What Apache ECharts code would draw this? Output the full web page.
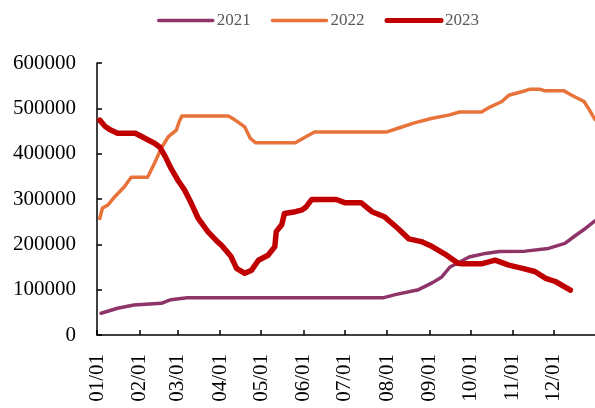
<!DOCTYPE html>
<html>
<head>
<meta charset="utf-8">
<script src="https://cdn.jsdelivr.net/npm/echarts@6/dist/echarts.min.js"></script>
<style>html,body{margin:0;padding:0;background:#fff;}#c{width:595px;height:408px;}</style>
</head>
<body>
<div id="c"></div>
<script>
var seriesNames = ['2021', '2022', '2023'];
var yTicks = [0, 100000, 200000, 300000, 400000, 500000, 600000];

var dates2021 = ['01-04','01-16','01-28','02-17','02-24','03-08','07-29','08-07','08-24','09-03','09-10','09-16','09-20','09-30','10-12','10-22','11-10','11-27','12-09','12-17','12-24','12-31'];
var values2021 = [48000,59000,66000,70000,78000,82000,82000,89000,100000,115000,128000,150000,156000,172000,180000,184000,185000,191000,202000,220000,235000,252000];

var dates2022 = ['01-03','01-05','01-09','01-14','01-21','01-26','02-07','02-12','02-17','02-22','02-28','03-02','03-04','04-07','04-12','04-19','04-23','04-27','05-26','06-02','06-09','08-01','08-09','08-21','09-03','09-15','09-23','10-09','10-14','10-24','10-29','11-08','11-13','11-21','11-24','12-08','12-14','12-23','12-27','12-31'];
var values2022 = [257000,280000,287000,305000,327000,348000,348000,379000,412000,437000,452000,470000,483000,483000,474000,459000,434000,424000,424000,436000,448000,448000,456000,468000,478000,485000,492000,492000,501000,515000,529000,537000,542000,542000,539000,539000,529000,515000,496000,475000];

var dates2023 = ['01-03','01-07','01-11','01-16','01-29','02-05','02-12','02-16','02-20','02-24','03-01','03-06','03-11','03-16','03-23','03-30','04-02','04-09','04-13','04-19','04-24','04-29','05-06','05-11','05-12','05-16','05-18','05-26','05-31','06-03','06-07','06-25','07-01','07-13','07-21','07-30','08-09','08-17','08-26','09-03','09-12','09-22','09-25','10-09','10-19','10-29','11-08','11-17','11-25','12-02','12-13'];
var values2023 = [474000,460000,452000,445000,445000,434000,423000,414000,393000,368000,342000,320000,290000,257000,228000,206000,198000,173000,147000,136000,143000,165000,176000,195000,228000,243000,268000,272000,276000,283000,299000,299000,292000,292000,272000,261000,235000,212000,206000,195000,179000,158000,157000,157000,165000,154000,147000,140000,125000,118000,99000];

var colors = ['#8E3469', '#E8733A', '#C00000'];
var widths = [3.5, 3.5, 5.5];
var legendWidths = [3.5, 3.5, 5];

function pairs(dates, values) {
  return dates.map(function (d, i) { return ['2021-' + d, values[i]]; });
}
var allData = [pairs(dates2021, values2021), pairs(dates2022, values2022), pairs(dates2023, values2023)];

var serif = '"Liberation Serif", "Times New Roman", serif';
var chart = echarts.init(document.getElementById('c'));
chart.setOption({
  animation: false,
  color: colors,
  legend: {
    top: 7,
    left: 152,
    itemWidth: 54,
    itemHeight: 12,
    itemGap: 20,
    itemStyle: { opacity: 0 },
    textStyle: { fontFamily: serif, fontSize: 17, color: '#595959', padding: [0, 0, 0, -1] },
    data: seriesNames.map(function (n, i) {
      return { name: n, lineStyle: { width: legendWidths[i], color: colors[i], cap: 'round' } };
    })
  },
  grid: { left: 97, right: 0, top: 63, bottom: 73, containLabel: false },
  xAxis: {
    type: 'time',
    min: '2021-01-01',
    max: '2021-12-31',
    splitNumber: 12,
    axisLine: { lineStyle: { color: '#000', width: 1.5 } },
    axisTick: { inside: true, length: 5, lineStyle: { color: '#000', width: 1.5 } },
    splitLine: { show: false },
    axisLabel: {
      rotate: 90,
      margin: 19,
      fontFamily: serif,
      fontSize: 21,
      color: '#000',
      hideOverlap: false,
      showMaxLabel: false,
      formatter: function (v) {
        var d = new Date(v);
        var m = d.getMonth() + 1, dd = d.getDate();
        return (m < 10 ? '0' : '') + m + '/' + (dd < 10 ? '0' : '') + dd;
      }
    }
  },
  yAxis: {
    type: 'value',
    min: yTicks[0],
    max: yTicks[yTicks.length - 1],
    interval: yTicks[1] - yTicks[0],
    axisLine: { show: true, lineStyle: { color: '#000', width: 1.5 } },
    axisTick: { show: true, inside: true, length: 5, lineStyle: { color: '#000', width: 1.5 } },
    splitLine: { show: false },
    axisLabel: { margin: 21, fontFamily: serif, fontSize: 21, color: '#000', formatter: function (v) { return String(v); } }
  },
  series: seriesNames.map(function (n, i) {
    return {
      name: n,
      type: 'line',
      data: allData[i],
      symbol: 'none',
      z: i + 2,
      lineStyle: { color: colors[i], width: widths[i], join: 'round', cap: 'round' },
      itemStyle: { color: colors[i] }
    };
  })
});
</script>
</body>
</html>
